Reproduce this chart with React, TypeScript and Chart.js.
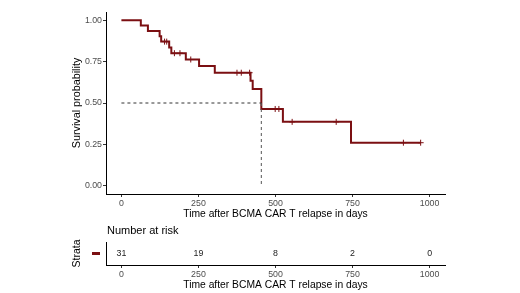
import React, { useEffect, useRef } from "react";
import { Chart, registerables } from "chart.js";

Chart.register(...registerables);

// ---- data ----
const eventTimes = [0, 63, 86, 124, 129, 155, 162, 209, 252, 303, 419, 426, 454, 524, 745];
const survival = [1.0, 0.968, 0.935, 0.903, 0.871, 0.836, 0.801, 0.763, 0.723, 0.683, 0.634, 0.585, 0.464, 0.386, 0.26];
const censorTimes = [140, 147, 172, 190, 225, 375, 389, 416, 499, 511, 554, 697, 915, 971];
const lastTime = 971;
const medianTime = 454;
const medianSurv = 0.5;
const riskTimes = [0, 250, 500, 750, 1000];
const riskCounts = [31, 19, 8, 2, 0];
const xTicks = [0, 250, 500, 750, 1000];
const yTicks = [0, 0.25, 0.5, 0.75, 1.0];
const strata = ["All"];

const LINE = "#7b0f12";
const FONT = "'Liberation Sans', Arial, sans-serif";
const TICKCOL = "#4d4d4d";

function survAt(t: number): number {
  let s = 1;
  for (let i = 0; i < eventTimes.length; i++) if (eventTimes[i] <= t) s = survival[i];
  return s;
}

function buildSteps() {
  const pts: { x: number; y: number }[] = [];
  for (let i = 0; i < eventTimes.length; i++) {
    if (i > 0) pts.push({ x: eventTimes[i], y: survival[i - 1] });
    pts.push({ x: eventTimes[i], y: survival[i] });
  }
  pts.push({ x: lastTime, y: survival[survival.length - 1] });
  return pts;
}

const xScaleBase = (titleText: string) => ({
  type: "linear" as const,
  min: -50,
  max: 1050,
  afterBuildTicks: (s: any) => {
    s.ticks = xTicks.map((v) => ({ value: v }));
  },
  afterFit: (s: any) => {
    s.height = 28;
  },
  grid: { drawOnChartArea: false, drawTicks: true, tickLength: 3, color: "#333333", lineWidth: 1 },
  border: { display: true, color: "#000000", width: 1 },
  ticks: {
    color: TICKCOL,
    font: { family: FONT, size: 8.8 },
    padding: 1,
    maxRotation: 0,
    autoSkip: false,
    callback: (v: any) => String(v),
  },
  title: {
    display: true,
    text: titleText,
    color: "#000000",
    font: { family: FONT, size: 10.3 },
    padding: { top: 0, bottom: 2 },
  },
});

function MainChart() {
  const ref = useRef<HTMLCanvasElement>(null);
  useEffect(() => {
    if (!ref.current) return;
    const chart = new Chart(ref.current, {
      type: "line",
      data: {
        datasets: [
          {
            data: [
              { x: 0, y: medianSurv },
              { x: medianTime, y: medianSurv },
            ],
            borderColor: "#333333",
            borderWidth: 1,
            borderDash: [3, 3],
            pointRadius: 0,
          },
          {
            data: [
              { x: medianTime, y: medianSurv },
              { x: medianTime, y: 0 },
            ],
            borderColor: "#555555",
            borderWidth: 1,
            borderDash: [3, 3],
            pointRadius: 0,
          },
          {
            data: buildSteps(),
            borderColor: LINE,
            borderWidth: 2,
            pointRadius: 0,
            tension: 0,
          },
          {
            data: censorTimes.map((t) => ({ x: t, y: survAt(t) })),
            showLine: false,
            borderColor: LINE,
            backgroundColor: LINE,
            pointStyle: "cross",
            pointRadius: 3,
            borderWidth: 1,
          } as any,
        ],
      },
      options: {
        animation: false,
        responsive: false,
        devicePixelRatio: 1,
        layout: { padding: { left: 71, right: 75, top: 12, bottom: 0 } },
        plugins: { legend: { display: false }, tooltip: { enabled: false } },
        scales: {
          x: xScaleBase("Time after BCMA CAR T relapse in days") as any,
          y: {
            type: "linear",
            min: -0.05,
            max: 1.05,
            afterBuildTicks: (s: any) => {
              s.ticks = yTicks.map((v) => ({ value: v }));
            },
            afterFit: (s: any) => {
              s.width = 35;
            },
            grid: { drawOnChartArea: false, drawTicks: true, tickLength: 3, color: "#333333", lineWidth: 1 },
            border: { display: true, color: "#000000", width: 1 },
            ticks: {
              color: TICKCOL,
              font: { family: FONT, size: 8.8 },
              padding: 1,
              callback: (v: any) => Number(v).toFixed(2),
            },
            title: {
              display: true,
              text: "Survival probability",
              color: "#000000",
              font: { family: FONT, size: 10.8 },
              padding: { top: 0, bottom: 0 },
            },
          },
        },
      },
    });
    return () => chart.destroy();
  }, []);
  return <canvas ref={ref} width={520} height={222} style={{ position: "absolute", left: 0, top: 0 }} />;
}

function RiskTable() {
  const ref = useRef<HTMLCanvasElement>(null);
  useEffect(() => {
    if (!ref.current) return;
    const riskPlugin = {
      id: "riskText",
      afterDatasetsDraw(chart: any) {
        const { ctx, scales, chartArea } = chart;
        const xs = scales.x;
        const ys = scales.y;
        ctx.save();
        // table header
        ctx.fillStyle = "#000000";
        ctx.font = `11px ${FONT}`;
        ctx.textAlign = "left";
        ctx.textBaseline = "middle";
        ctx.fillText("Number at risk", chartArea.left + 1, chartArea.top - 11);
        // counts
        const yPix = ys.getPixelForValue(0);
        ctx.font = `8.8px ${FONT}`;
        ctx.fillStyle = "#222222";
        ctx.textAlign = "center";
        riskTimes.forEach((t, i) => {
          ctx.fillText(String(riskCounts[i]), xs.getPixelForValue(t), yPix);
        });
        // strata colour key
        ctx.fillStyle = LINE;
        ctx.fillRect(chartArea.left - 14, yPix - 1.5, 8, 3);
        ctx.restore();
      },
    };
    const chart = new Chart(ref.current, {
      type: "scatter",
      data: {
        labels: strata,
        datasets: [
          {
            data: riskTimes.map((t) => ({ x: t, y: 0 })),
            pointRadius: 0,
            showLine: false,
          },
        ],
      },
      options: {
        animation: false,
        responsive: false,
        devicePixelRatio: 1,
        layout: { padding: { left: 71, right: 75, top: 20, bottom: 0 } },
        plugins: { legend: { display: false }, tooltip: { enabled: false } },
        scales: {
          x: xScaleBase("Time after BCMA CAR T relapse in days") as any,
          y: {
            type: "linear",
            min: -1,
            max: 1,
            afterBuildTicks: (s: any) => {
              s.ticks = [];
            },
            afterFit: (s: any) => {
              s.width = 35;
            },
            grid: { display: false },
            border: { display: true, color: "#000000", width: 1 },
            ticks: { display: false },
            title: {
              display: true,
              text: "Strata",
              color: "#000000",
              font: { family: FONT, size: 10.5 },
              padding: { top: 0, bottom: 0 },
            },
          },
        },
      },
      plugins: [riskPlugin],
    });
    return () => chart.destroy();
  }, []);
  return <canvas ref={ref} width={520} height={71} style={{ position: "absolute", left: 0, top: 222 }} />;
}

export default function App() {
  return (
    <div style={{ position: "absolute", left: 0, top: 0, width: 520, height: 293, background: "#ffffff" }}>
      <MainChart />
      <RiskTable />
    </div>
  );
}
